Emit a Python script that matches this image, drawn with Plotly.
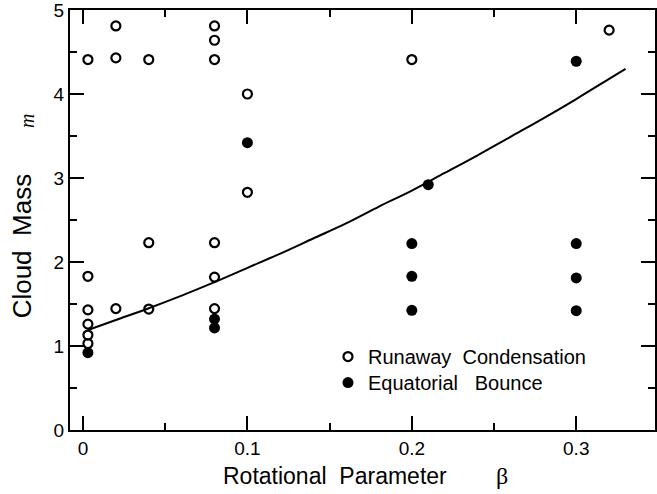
import plotly.graph_objects as go

# Runaway Condensation (open circles)
run_beta = [0.003, 0.003, 0.003, 0.003, 0.003, 0.003, 0.02, 0.02, 0.02, 0.04, 0.04, 0.04,
            0.08, 0.08, 0.08, 0.08, 0.08, 0.08, 0.1, 0.1, 0.2, 0.32]
run_mass = [4.41, 1.83, 1.43, 1.26, 1.13, 1.03, 4.81, 4.43, 1.445, 4.41, 2.23, 1.44,
            4.81, 4.64, 4.41, 2.23, 1.82, 1.445, 4.0, 2.83, 4.41, 4.76]

# Equatorial Bounce (filled circles)
bnc_beta = [0.003, 0.08, 0.08, 0.1, 0.21, 0.2, 0.2, 0.2, 0.3, 0.3, 0.3, 0.3]
bnc_mass = [0.92, 1.32, 1.215, 3.42, 2.92, 2.22, 1.83, 1.425, 4.39, 2.22, 1.81, 1.42]

# Fitted curve
curve_beta = [0.003, 0.02, 0.04, 0.06, 0.08, 0.10, 0.12, 0.14, 0.16, 0.18, 0.20,
              0.22, 0.24, 0.26, 0.28, 0.30, 0.32, 0.33]
curve_mass = [1.19, 1.31, 1.45, 1.60, 1.76, 1.93, 2.10, 2.28, 2.46, 2.66, 2.85,
              3.06, 3.27, 3.49, 3.71, 3.94, 4.18, 4.30]

x_ticks = [0, 0.1, 0.2, 0.3]
x_tick_labels = ["0", "0.1", "0.2", "0.3"]
y_ticks = [0, 1, 2, 3, 4, 5]

FONT = "Liberation Sans, Arial, Helvetica, sans-serif"

fig = go.Figure()
fig.add_trace(go.Scatter(x=curve_beta, y=curve_mass, mode="lines", line=dict(color="black", width=2, shape="spline"),
                         showlegend=False, hoverinfo="skip"))
fig.add_trace(go.Scatter(x=run_beta, y=run_mass, mode="markers", name="Runaway  Condensation", legend="legend",
                         marker=dict(symbol="circle-open", size=9, color="black", line=dict(width=2.2, color="black"))))
fig.add_trace(go.Scatter(x=bnc_beta, y=bnc_mass, mode="markers", name="Equatorial   Bounce", legend="legend2",
                         marker=dict(symbol="circle", size=11, color="black")))

axis_common = dict(showline=True, linecolor="black", linewidth=2, mirror="ticks", ticks="inside",
                   tickcolor="black", tickwidth=1.5, ticklen=14, showgrid=False, zeroline=False,
                   ticklabeloverflow="allow",
                   tickfont=dict(family=FONT, size=19, color="black"))

fig.update_xaxes(range=[-0.0079, 0.3479], tickvals=x_ticks, ticktext=x_tick_labels,
                 minor=dict(dtick=0.05, tick0=0, ticks="inside", ticklen=7, tickwidth=1.5, tickcolor="black", showgrid=False),
                 **axis_common)
fig.update_yaxes(range=[0, 5], tickvals=y_ticks,
                 minor=dict(dtick=0.5, tick0=0, ticks="inside", ticklen=7, tickwidth=1.5, tickcolor="black", showgrid=False),
                 **axis_common)

annotations = [
    dict(text="Cloud  Mass", x=-0.0818, y=0.4376, textangle=-90, font=dict(family=FONT, size=26, color="black")),
    dict(text="<i>m</i>", x=-0.0733, y=0.736, textangle=-90, font=dict(family="Liberation Serif, serif", size=20, color="black")),
    dict(text="Rotational  Parameter", x=0.4523, y=-0.1106, font=dict(family=FONT, size=23, color="black")),
    dict(text="β", x=0.7377, y=-0.1106, font=dict(family="Liberation Serif, serif", size=24, color="black")),
]
for a in annotations:
    a.update(xref="paper", yref="paper", showarrow=False, xanchor="center", yanchor="middle")

legend_common = dict(xanchor="left", yanchor="middle", bgcolor="rgba(0,0,0,0)",
                     font=dict(family=FONT, size=20, color="black"), itemsizing="trace")

fig.update_layout(
    width=657, height=494,
    margin=dict(l=70, r=0, t=10, b=64),
    plot_bgcolor="white", paper_bgcolor="white",
    annotations=annotations,
    legend=dict(x=0.441, y=0.1748, **legend_common),
    legend2=dict(x=0.441, y=0.1130, **legend_common),
)

fig.write_html("out.html", config={"displayModeBar": False},
               post_script="document.body.style.margin='0';document.body.style.overflow='hidden';")
